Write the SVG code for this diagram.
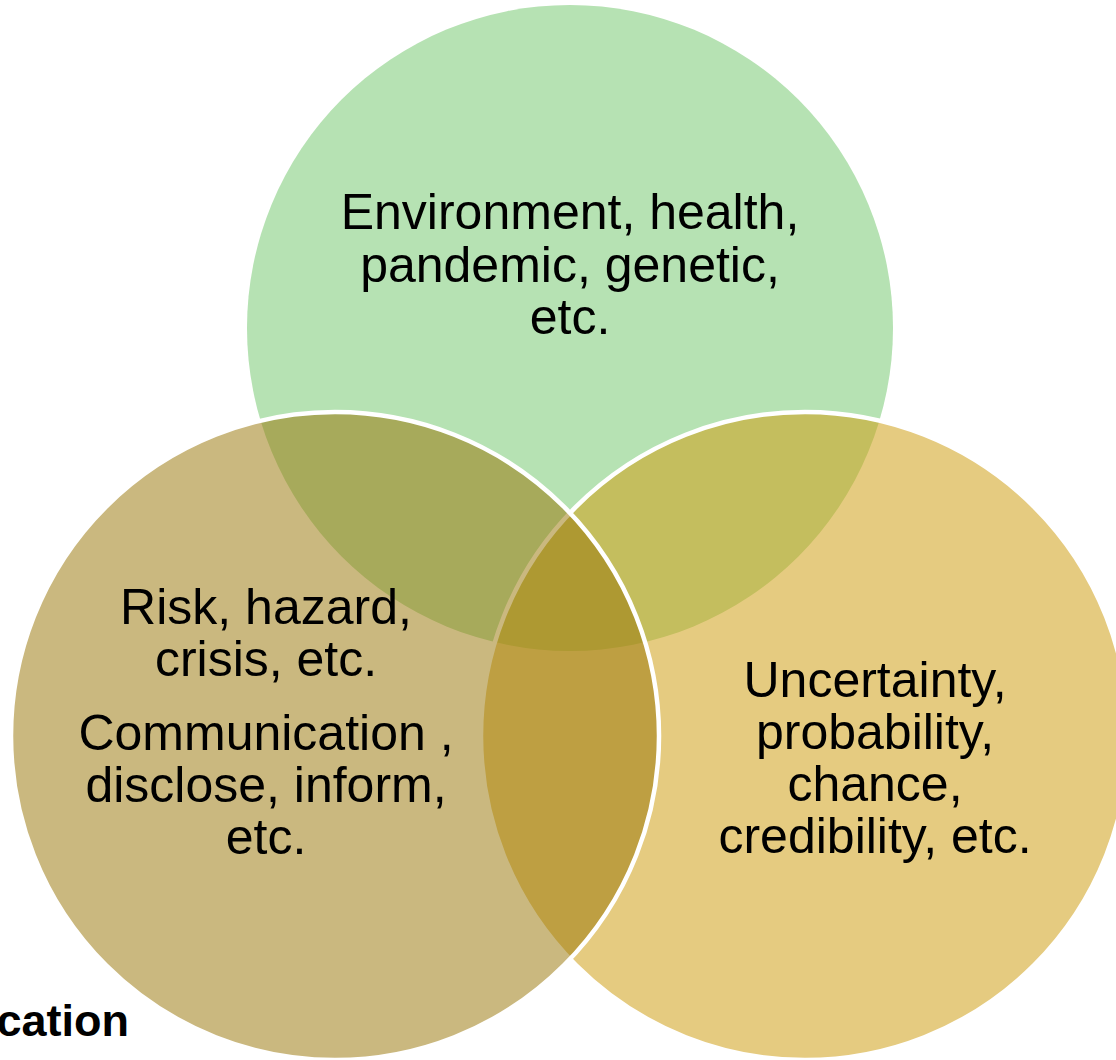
<svg xmlns="http://www.w3.org/2000/svg" width="1116" height="1060" viewBox="0 0 1116 1060">
<style>
.lbl{font-family:"Liberation Sans",Arial,sans-serif;font-size:50px;fill:#000;text-anchor:middle}
.ring{stroke:#fff;stroke-width:4.5}
</style>
<rect width="1116" height="1060" fill="#fff"/>
<g id="node-top">
<circle cx="570" cy="328" r="323" fill="#b6e2b3"/>
</g>
<g id="node-right">
<circle class="ring" cx="805" cy="736" r="324" fill="#d0a018" fill-opacity="0.55"/>
</g>
<g id="node-left">
<circle class="ring" cx="335" cy="736" r="324" fill="#99760a" fill-opacity="0.52"/>
</g>
<g id="connectors"></g>
<g id="labels">
<text class="lbl" x="570" y="229">Environment, health,</text>
<text class="lbl" x="570" y="282">pandemic, genetic,</text>
<text class="lbl" x="570" y="334">etc.</text>
<text class="lbl" x="266" y="624">Risk, hazard,</text>
<text class="lbl" x="266" y="676">crisis, etc.</text>
<text class="lbl" x="266" y="750">Communication ,</text>
<text class="lbl" x="266" y="802">disclose, inform,</text>
<text class="lbl" x="266" y="854">etc.</text>
<text class="lbl" x="875" y="697">Uncertainty,</text>
<text class="lbl" x="875" y="749">probability,</text>
<text class="lbl" x="875" y="801">chance,</text>
<text class="lbl" x="875" y="853">credibility, etc.</text>
<text x="129" y="1036" font-family="Liberation Sans,Arial,sans-serif" font-size="45" font-weight="bold" text-anchor="end">cation</text>
</g>
</svg>
